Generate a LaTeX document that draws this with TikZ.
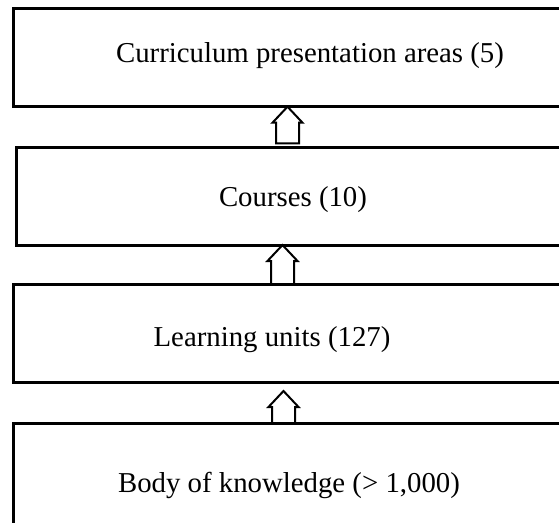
\documentclass[tikz,border=0pt]{standalone}
\usepackage{fontspec}
\setmainfont{Liberation Serif}
\usetikzlibrary{positioning,calc}

\begin{document}
\begin{tikzpicture}
    [box/.style={rectangle,draw=black,line width=3pt,
    inner sep=0pt,outer sep=0pt,minimum width=620pt,minimum height=97.7pt,anchor=north west},
    caption/.style={inner sep=0pt,font=\fontsize{28.8pt}{34pt}\selectfont},
    hollow arrow/.style={draw=black,line width=2pt,line join=miter,
    to path={let \p1=(\tikztostart), \p2=(\tikztotarget) in
    (\x1-11.5pt,\y1) -- (\x1-11.5pt,\y2-16pt) -- (\x1-15pt,\y2-16pt) -- (\x1,\y2)
    -- (\x1+15pt,\y2-16pt) -- (\x1+11.5pt,\y2-16pt) -- (\x1+11.5pt,\y1) -- cycle}}]
    \useasboundingbox (0,0) rectangle (559pt,-522pt);
    \clip (0,0) rectangle (559pt,-522pt);
    \node[box,minimum height=98pt] (areas) at (13.5pt,-8.7pt) {};
    \node[box] (courses) [below right=40.6pt and 3pt of areas.south west] {};
    \node[box] (learning units) [below right=39.3pt and -3pt of courses.south west] {};
    \node[box,minimum height=200pt] (body) [below right=41.6pt and 0pt of learning units.south west] {};
    \node[caption] (areas text) at (310pt,-55.5pt) {Curriculum presentation areas (5)};
    \node[caption] (courses text) at (293pt,-199.5pt) {Courses (10)};
    \node[caption] (learning units text) at (272pt,-340pt) {Learning units (127)};
    \node[caption] (body text) at (289pt,-485pt) {Body of knowledge (> 1,000)};
    \coordinate (axis 1) at (287.5pt,0);
    \coordinate (axis 2) at (282.5pt,0);
    \coordinate (axis 3) at (283.5pt,0);
    \draw[hollow arrow] ($(axis 1 |- courses.north)+(0,4pt)$) to (axis 1 |- areas.south);
    \draw[hollow arrow] (axis 2 |- learning units.north) to (axis 2 |- courses.south);
    \draw[hollow arrow] (axis 3 |- body.north) to ($(axis 3 |- learning units.south)+(0,-9pt)$);
\end{tikzpicture}
\end{document}
